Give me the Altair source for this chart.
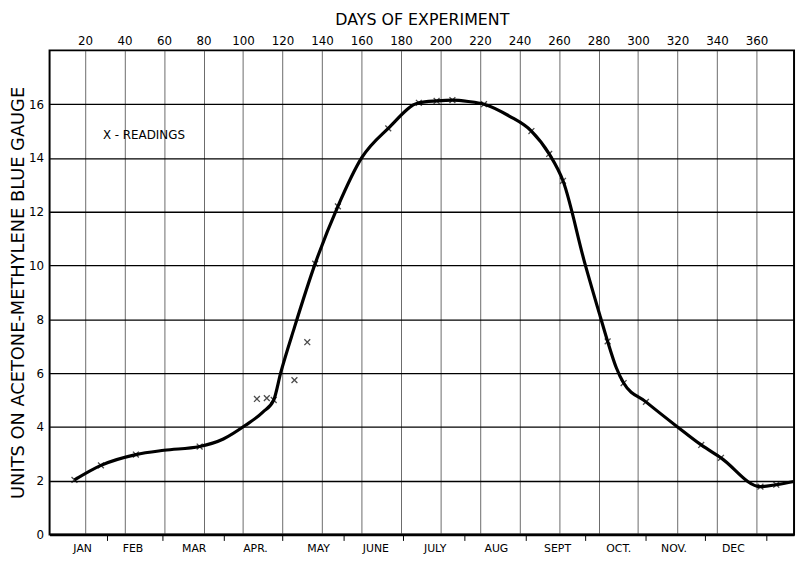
import altair as alt
import pandas as pd

# Curve (day of experiment, units)
curve_days = [14.6, 28, 45.7, 60, 78, 90, 101, 110, 115.5, 119, 126, 136.5, 148, 160,
              173.5, 189, 198, 206, 214, 222, 235, 246, 255, 262, 273, 281, 284.6, 289,
              292.7, 304, 320, 332, 342, 362, 370, 379]
curve_vals = [2.03, 2.57, 2.97, 3.13, 3.27, 3.55, 4.05, 4.55, 5.0, 6.0, 7.7, 10.07, 12.2, 14.0,
              15.1, 16.05, 16.12, 16.15, 16.1, 16.0, 15.55, 15.0, 14.15, 13.15, 10.1, 8.07, 7.18, 6.2,
              5.63, 4.93, 4.0, 3.33, 2.85, 1.78, 1.85, 1.97]

# Readings (x marks)
reading_days = [14.6, 28, 45.7, 78, 107, 112, 115.5, 126, 132.5, 136.5, 148, 173.5, 189, 198,
                206, 222, 246, 255, 262, 284.6, 292.7, 304, 332, 342, 362, 370]
reading_vals = [2.03, 2.57, 2.97, 3.27, 5.04, 5.07, 5.0, 5.74, 7.15, 10.07, 12.2, 15.1, 16.05, 16.12,
                16.15, 16.0, 15.0, 14.15, 13.15, 7.18, 5.63, 4.93, 3.33, 2.85, 1.78, 1.85]

top_ticks = list(range(20, 361, 20))
y_ticks = list(range(0, 17, 2))
month_names = ["JAN", "FEB", "MAR", "APR.", "MAY", "JUNE", "JULY", "AUG", "SEPT", "OCT.", "NOV.", "DEC"]
month_label_days = [18.5, 44, 75, 106, 138, 167, 197, 228, 259, 290, 318, 348]
month_bounds = [31, 59, 90, 120, 151, 181, 212, 243, 273, 304, 334, 365]

legend_text = ["X - READINGS"]
legend_day = [29]
legend_val = [14.85]

x_domain = [2, 379]
y_domain = [0, 18]

FONT = "DejaVu Sans"
W, H = 752, 489

df_curve = pd.DataFrame({"day": curve_days, "units": curve_vals})
df_read = pd.DataFrame({"day": reading_days, "units": reading_vals})
df_leg = pd.DataFrame({"day": legend_day, "units": legend_val, "text": legend_text})

xs = alt.Scale(domain=x_domain, nice=False, zero=False)
ys = alt.Scale(domain=y_domain, nice=False, zero=False)

y_axis = alt.Axis(
    values=y_ticks, title="UNITS ON ACETONE-METHYLENE BLUE GAUGE", grid=True,
    gridColor="black", gridWidth=1.3, ticks=False, domain=False,
    labelFont=FONT, labelFontSize=12, labelColor="black", labelPadding=6,
    titleFont=FONT, titleFontSize=18, titleFontWeight="normal", titleColor="black",
    titlePadding=1)

line = alt.Chart(df_curve).mark_line(
    color="black", strokeWidth=3.2, interpolate="monotone"
).encode(
    x=alt.X("day:Q", scale=xs, axis=alt.Axis(
        orient="top", values=top_ticks, title="DAYS OF EXPERIMENT", grid=True,
        gridColor="#444", gridWidth=0.8, ticks=False, domain=False,
        labelFlush=False, labelOverlap=False, labelFont=FONT, labelFontSize=12,
        labelColor="black", labelPadding=3, titleFont=FONT, titleFontSize=16,
        titleFontWeight="normal", titleColor="black", titlePadding=7)),
    y=alt.Y("units:Q", scale=ys, axis=y_axis),
)

label_expr = ("indexof(%s, datum.value) >= 0 ? %s[indexof(%s, datum.value)] : ''"
              % (str(month_label_days), str(month_names).replace('"', "'"), str(month_label_days)))
tick_test = "indexof(%s, datum.value) >= 0" % str(month_bounds)

points = alt.Chart(df_read).mark_point(
    shape="M-1,-1L1,1M-1,1L1,-1", filled=False, stroke="black", strokeWidth=1.3, size=35
).encode(
    x=alt.X("day:Q", scale=xs, axis=alt.Axis(
        orient="bottom", values=month_bounds + month_label_days, labelExpr=label_expr,
        tickOpacity={"condition": {"test": tick_test, "value": 1}, "value": 0},
        tickSize=6, tickColor="black", tickWidth=1, grid=False, title=None,
        domain=True, domainColor="black", domainWidth=2.5,
        labelFlush=False, labelOverlap=False, labelBound=False,
        labelFont=FONT, labelFontSize=11, labelColor="black", labelPadding=2)),
    y=alt.Y("units:Q", scale=ys, axis=y_axis),
)

legend = alt.Chart(df_leg).mark_text(
    align="left", baseline="middle", font=FONT, fontSize=12, color="black"
).encode(
    x=alt.X("day:Q", scale=xs, axis=None),
    y=alt.Y("units:Q", scale=ys, axis=y_axis),
    text="text:N",
)

chart = alt.layer(line, points, legend).resolve_scale(
    x="independent"
).resolve_axis(
    x="independent"
).properties(
    width=W, height=H,
    autosize=alt.AutoSizeParams(type="none"),
    padding={"left": 42, "top": 40, "right": 4, "bottom": 25},
    background="white",
).configure_view(stroke="black", strokeWidth=2)

chart.save("out.html", embed_options={"renderer": "svg", "actions": False})
